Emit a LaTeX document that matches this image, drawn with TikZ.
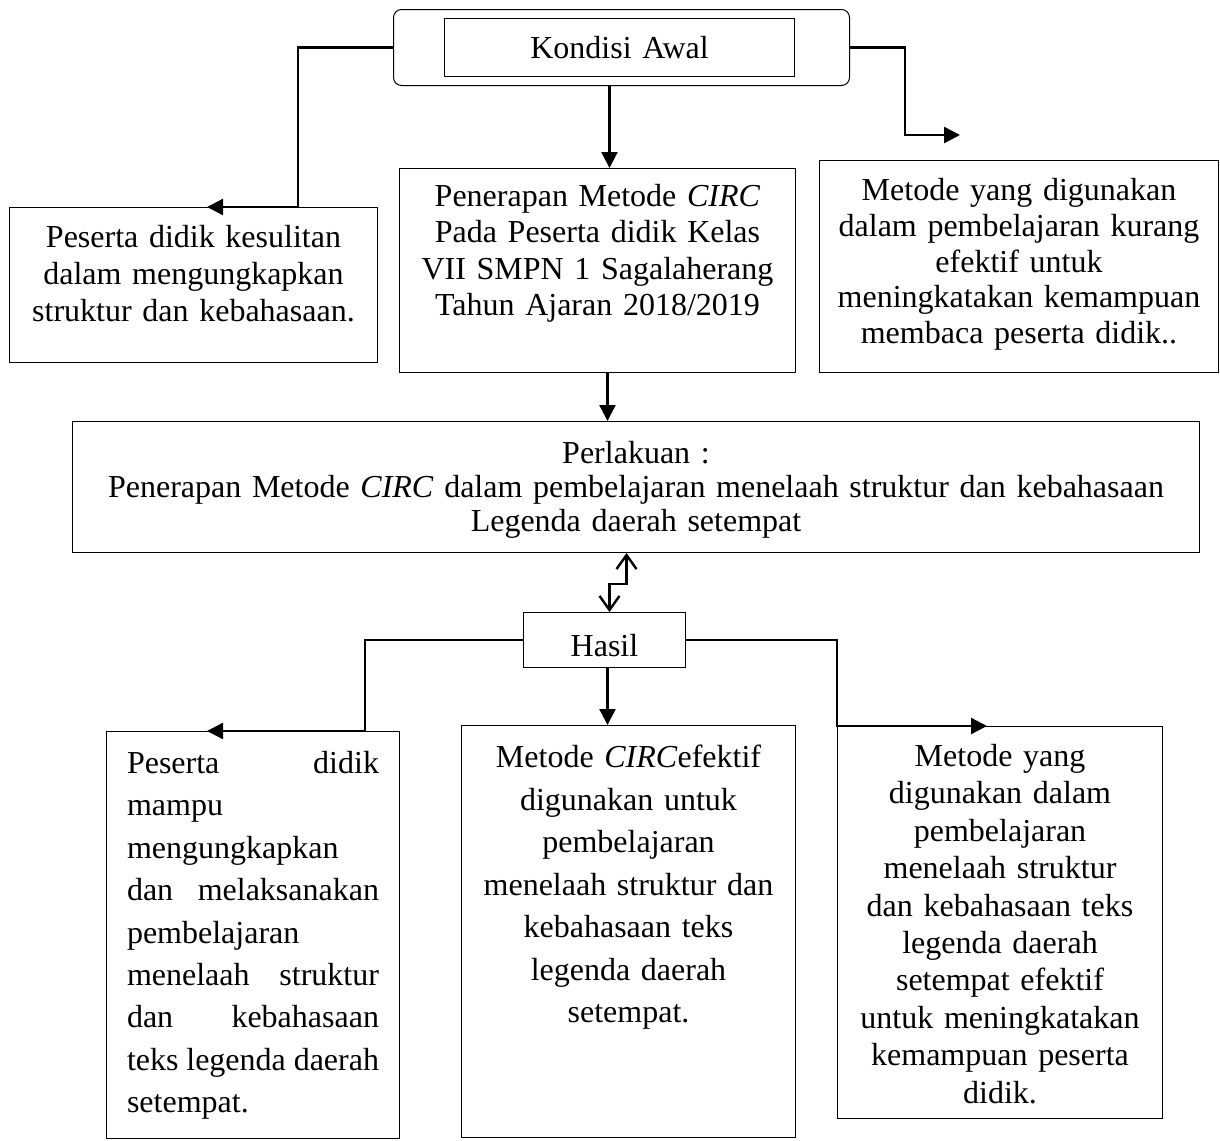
\documentclass[tikz,border=0pt]{standalone}
\usepackage{fontspec}
\setmainfont{Liberation Serif}
\usepackage{tikz}
\usetikzlibrary{arrows.meta}

\begin{document}
\begin{tikzpicture}[x=0.5pt,y=-0.5pt,
		kotak/.style={draw,line width=0.5pt,inner sep=0pt,anchor=north west,align=center},
		panah/.style={line width=1.2pt,-{Triangle[length=8pt,width=8pt]}},
		zigzag/.style={line width=1.2pt,{Straight Barb[length=7pt,width=10pt]}-{Straight Barb[length=7pt,width=10pt]}}]
		\useasboundingbox (0,0) rectangle (1220,1140);
		
		\node[kotak,rounded corners=4pt,minimum width=228pt,minimum height=38pt] (awal) at (393,9) {};
		\node[kotak,text width=175pt,text height=20pt,text depth=9pt,font=\fontsize{16}{18.4}\selectfont] (kondisi) at (444,18) {Kondisi Awal};
		
		\node[kotak,text width=184pt,text height=20pt,text depth=57.5pt,font=\fontsize{16}{18.5}\selectfont] (masalah1) at (9,207)
		{Peserta didik kesulitan\\ dalam mengungkapkan\\ struktur dan kebahasaan.};
		\node[kotak,text width=198pt,text height=19pt,text depth=83pt,font=\fontsize{16}{18.2}\selectfont] (penerapan) at (399,168)
		{Penerapan Metode \textit{CIRC}\\ Pada Peserta didik Kelas\\ VII SMPN 1 Sagalaherang\\ Tahun Ajaran 2018/2019};
		\node[kotak,text width=199.5pt,text height=20pt,text depth=86pt,font=\fontsize{16}{17.9}\selectfont] (masalah2) at (819,160)
		{Metode yang digunakan\\ dalam pembelajaran kurang\\ efektif untuk\\ meningkatakan kemampuan\\ membaca peserta didik..};
		
		\node[kotak,text width=563.5pt,text height=21pt,text depth=44.5pt,font=\fontsize{16}{17}\selectfont] (perlakuan) at (72,421)
		{Perlakuan :\\ Penerapan Metode \textit{CIRC} dalam pembelajaran menelaah struktur dan kebahasaan\\ Legenda daerah setempat};
		
		\node[kotak,text width=81pt,text height=22pt,text depth=5.5pt,font=\fontsize{16}{18.4}\selectfont] (hasil) at (523,612) {Hasil};
		
		\node[kotak,align=left,inner xsep=10.25pt,text width=126pt,text height=21pt,text depth=182.5pt,font=\fontsize{16}{21.2}\selectfont] (hasil1) at (106,731)
		{Peserta\hfill didik\\ mampu\\ mengungkapkan\\ dan\hfill melaksanakan\\ pembelajaran\\ menelaah\hfill struktur\\ dan\hfill kebahasaan\\ teks\hfill legenda\hfill daerah\\ setempat.};
		\node[kotak,text width=167pt,text height=21pt,text depth=185pt,font=\fontsize{16}{21.25}\selectfont] (hasil2) at (461,725)
		{Metode \textit{CIRC}efektif\\ digunakan untuk\\ pembelajaran\\ menelaah struktur dan\\ kebahasaan teks\\ legenda daerah\\ setempat.};
		\node[kotak,text width=162.5pt,text height=20pt,text depth=176pt,font=\fontsize{16}{18.7}\selectfont] (hasil3) at (837,726)
		{Metode yang\\ digunakan dalam\\ pembelajaran\\ menelaah struktur\\ dan kebahasaan teks\\ legenda daerah\\ setempat efektif\\ untuk meningkatakan\\ kemampuan peserta\\ didik.};
		
		\coordinate (ujung) at (960,135);
		
		% kondisi awal
		\draw[panah] (awal.west) -- ++(-95,0) |- ([xshift=99pt]masalah1.north west);
		\draw[panah] ([xshift=-6pt]awal.south) -- ([xshift=6pt]penerapan.north);
		\draw[panah] (awal.east) -- ++(55,0) |- (ujung);
		\draw[panah] ([xshift=5pt]penerapan.south) -- ([xshift=5pt]penerapan.south |- perlakuan.north);
		\draw[zigzag] ([xshift=-4.75pt]perlakuan.south) -- ++(0,31) -| ([xshift=2.5pt]hasil.north);
		
		% hasil
		\draw[panah] (hasil.west) -- ++(-158,0) |- ([xshift=50.5pt]hasil1.north west);
		\draw[panah] ([xshift=1.5pt]hasil.south) -- ([xshift=1.5pt]hasil.south |- hasil2.north);
		\draw[panah] (hasil.east) -- ++(151,0) |- ([xshift=75pt]hasil3.north west);
\end{tikzpicture}
\end{document}
